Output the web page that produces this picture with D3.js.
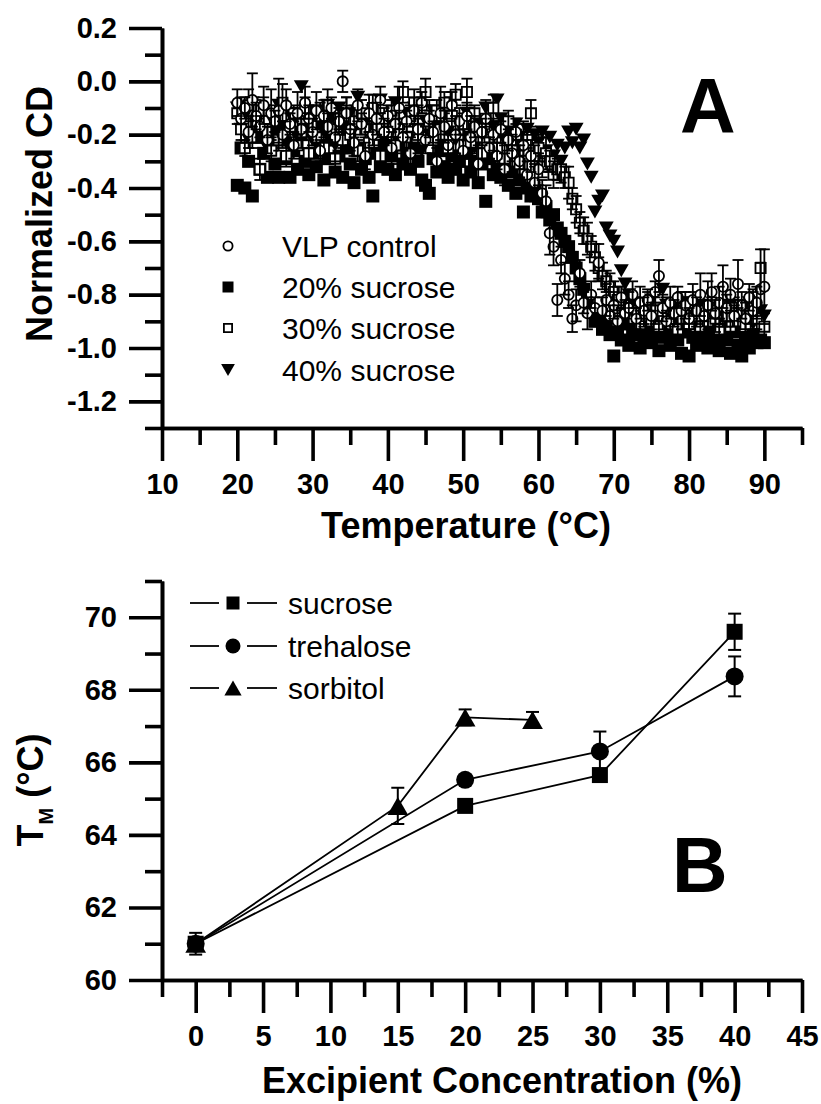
<!DOCTYPE html>
<html>
<head>
<meta charset="utf-8">
<script src="https://cdn.jsdelivr.net/npm/d3@7"></script>
<style>
body { margin: 0; background: #fff; }
text { font-family: "Liberation Sans", Arial, sans-serif; fill: #000; }
</style>
</head>
<body>
<div id="chart"></div>
<script>
var width = 821,
    height = 1104;

// ---- panel A : CD melting curves ----
var temps = [
  20, 20.5, 21, 21.5, 22, 22.5, 23, 23.5, 24, 24.5,
  25, 25.5, 26, 26.5, 27, 27.5, 28, 28.5, 29, 29.5,
  30, 30.5, 31, 31.5, 32, 32.5, 33, 33.5, 34, 34.5,
  35, 35.5, 36, 36.5, 37, 37.5, 38, 38.5, 39, 39.5,
  40, 40.5, 41, 41.5, 42, 42.5, 43, 43.5, 44, 44.5,
  45, 45.5, 46, 46.5, 47, 47.5, 48, 48.5, 49, 49.5,
  50, 50.5, 51, 51.5, 52, 52.5, 53, 53.5, 54, 54.5,
  55, 55.5, 56, 56.5, 57, 57.5, 58, 58.5, 59, 59.5,
  60, 60.5, 61, 61.5, 62, 62.5, 63, 63.5, 64, 64.5,
  65, 65.5, 66, 66.5, 67, 67.5, 68, 68.5, 69, 69.5,
  70, 70.5, 71, 71.5, 72, 72.5, 73, 73.5, 74, 74.5,
  75, 75.5, 76, 76.5, 77, 77.5, 78, 78.5, 79, 79.5,
  80, 80.5, 81, 81.5, 82, 82.5, 83, 83.5, 84, 84.5,
  85, 85.5, 86, 86.5, 87, 87.5, 88, 88.5, 89, 89.5,
  90
];

var cd_vlp = [
  -0.08, -0.14, -0.10, -0.19, -0.07, -0.13, -0.17, -0.09, -0.22, -0.12,
  -0.15, -0.11, -0.20, -0.09, -0.16, -0.24, -0.12, -0.18, -0.08, -0.14,
  -0.19, -0.11, -0.26, -0.13, -0.17, -0.10, -0.21, -0.15, 0.00, -0.12,
  -0.18, -0.23, -0.09, -0.16, -0.28, -0.12, -0.20, -0.14, -0.07, -0.19,
  -0.13, -0.25, -0.16, -0.10, -0.21, -0.15, -0.27, -0.11, -0.18, -0.08,
  -0.22, -0.14, -0.19, -0.30, -0.12, -0.17, -0.24, -0.09, -0.20, -0.15,
  -0.26, -0.13, -0.21, -0.17, -0.31, -0.19, -0.14, -0.25, -0.20, -0.28,
  -0.18, -0.33, -0.22, -0.27, -0.19, -0.30, -0.24, -0.35, -0.28, -0.38,
  -0.33, -0.42, -0.45, -0.57, -0.62, -0.82, -0.67, -0.74, -0.80, -0.89,
  -0.84, -0.72, -0.83, -0.87, -0.80, -0.85, -0.68, -0.86, -0.82, -0.88,
  -0.84, -0.90, -0.81, -0.87, -0.85, -0.80, -0.89, -0.83, -0.86, -0.82,
  -0.88, -0.79, -0.73, -0.85, -0.90, -0.83, -0.87, -0.81, -0.86, -0.84,
  -0.89, -0.82, -0.86, -0.80, -0.88, -0.84, -0.79, -0.87, -0.83, -0.77,
  -0.85, -0.80, -0.88, -0.76, -0.84, -0.89, -0.81, -0.86, -0.83, -0.78,
  -0.77
];

var err_vlp = [
  0.05, 0.08, 0.04, 0.06, 0.10, 0.05, 0.04, 0.07, 0.05, 0.09,
  0.04, 0.12, 0.05, 0.06, 0.04, 0.05, 0.08, 0.04, 0.06, 0.05,
  0.05, 0.07, 0.04, 0.06, 0.05, 0.04, 0.09, 0.05, 0.04, 0.06,
  0.08, 0.05, 0.06, 0.04, 0.05, 0.07, 0.04, 0.06, 0.05, 0.05,
  0.04, 0.06, 0.05, 0.08, 0.05, 0.04, 0.06, 0.05, 0.09, 0.04,
  0.05, 0.07, 0.04, 0.05, 0.10, 0.06, 0.04, 0.05, 0.07, 0.05,
  0.06, 0.05, 0.08, 0.04, 0.06, 0.05, 0.07, 0.04, 0.06, 0.05,
  0.05, 0.06, 0.04, 0.07, 0.05, 0.06, 0.09, 0.05, 0.06, 0.07,
  0.06, 0.05, 0.06, 0.08, 0.07, 0.06, 0.05, 0.06, 0.05, 0.05,
  0.06, 0.05, 0.04, 0.06, 0.05, 0.04, 0.07, 0.05, 0.06, 0.04,
  0.05, 0.06, 0.04, 0.05, 0.06, 0.05, 0.04, 0.06, 0.05, 0.04,
  0.05, 0.04, 0.06, 0.05, 0.04, 0.06, 0.05, 0.04, 0.07, 0.05,
  0.04, 0.06, 0.05, 0.08, 0.06, 0.09, 0.07, 0.05, 0.06, 0.08,
  0.05, 0.06, 0.04, 0.09, 0.05, 0.06, 0.05, 0.07, 0.06, 0.10,
  0.14
];

var cd_suc20 = [
  -0.39, -0.25, -0.40, -0.30, -0.43, -0.21, -0.33, -0.27, -0.36, -0.24,
  -0.31, -0.36, -0.22, -0.29, -0.36, -0.26, -0.33, -0.20, -0.30, -0.35,
  -0.27, -0.32, -0.24, -0.37, -0.29, -0.22, -0.34, -0.28, -0.36, -0.25,
  -0.31, -0.38, -0.26, -0.33, -0.29, -0.36, -0.43, -0.27, -0.32, -0.24,
  -0.33, -0.28, -0.35, -0.23, -0.31, -0.27, -0.33, -0.25, -0.30, -0.37,
  -0.39, -0.42, -0.29, -0.34, -0.26, -0.32, -0.36, -0.28, -0.33, -0.30,
  -0.37, -0.27, -0.34, -0.30, -0.38, -0.31, -0.45, -0.29, -0.35, -0.33,
  -0.36, -0.31, -0.39, -0.34, -0.42, -0.37, -0.49, -0.40, -0.43, -0.41,
  -0.44, -0.49, -0.47, -0.52, -0.50, -0.55, -0.57, -0.60, -0.62, -0.66,
  -0.70, -0.74, -0.78, -0.82, -0.86, -0.90, -0.88, -0.93, -0.91, -0.95,
  -1.03, -0.94, -0.97, -0.91, -0.99, -0.95, -0.93, -1.00, -0.96, -0.92,
  -0.98, -0.94, -1.01, -0.96, -0.93, -0.99, -0.95, -0.97, -1.02, -0.94,
  -1.03, -0.96, -0.99, -0.93, -0.97, -1.00, -0.94, -0.98, -1.01, -0.95,
  -0.97, -1.02, -0.94, -0.99, -1.03, -0.96, -1.00, -0.95, -0.98, -0.97,
  -0.98
];

var cd_suc30 = [
  -0.12, -0.18, -0.25, -0.09, -0.21, -0.15, -0.33, -0.11, -0.19, -0.26,
  -0.14, -0.22, -0.08, -0.28, -0.17, -0.12, -0.24, -0.19, -0.10, -0.27,
  -0.16, -0.21, -0.13, -0.25, -0.09, -0.18, -0.29, -0.14, -0.22, -0.11,
  -0.20, -0.15, -0.26, -0.12, -0.18, -0.23, -0.10, -0.17, -0.28, -0.14,
  -0.19, -0.11, -0.24, -0.16, -0.04, -0.21, -0.13, -0.08, -0.18, -0.09,
  -0.04, -0.15, -0.22, -0.11, -0.18, -0.08, -0.25, -0.13, -0.05, -0.20,
  -0.16, -0.04, -0.23, -0.12, -0.19, -0.27, -0.14, -0.21, -0.10, -0.25,
  -0.18, -0.29, -0.15, -0.24, -0.20, -0.31, -0.26, -0.22, -0.12, -0.28,
  -0.25, -0.32, -0.27, -0.30, -0.35, -0.33, -0.33, -0.36, -0.38, -0.44,
  -0.48, -0.53, -0.56, -0.59, -0.62, -0.66, -0.70, -0.73, -0.75, -0.77,
  -0.79, -0.82, -0.84, -0.87, -0.85, -0.89, -0.86, -0.91, -0.88, -0.84,
  -0.90, -0.86, -0.92, -0.88, -0.85, -0.91, -0.87, -0.93, -0.89, -0.86,
  -0.91, -0.84, -0.88, -0.92, -0.86, -0.90, -0.85, -0.89, -0.93, -0.87,
  -0.88, -0.92, -0.85, -0.90, -0.86, -0.91, -0.87, -0.83, -0.89, -0.70,
  -0.92
];

var err_suc30 = [
  0.04, 0.05, 0.03, 0.06, 0.04, 0.08, 0.04, 0.05, 0.03, 0.04,
  0.05, 0.04, 0.07, 0.04, 0.05, 0.03, 0.04, 0.06, 0.04, 0.05,
  0.04, 0.03, 0.05, 0.04, 0.06, 0.04, 0.05, 0.04, 0.03, 0.05,
  0.04, 0.06, 0.04, 0.05, 0.03, 0.04, 0.05, 0.04, 0.06, 0.04,
  0.05, 0.04, 0.03, 0.05, 0.04, 0.06, 0.04, 0.05, 0.04, 0.03,
  0.05, 0.04, 0.06, 0.04, 0.05, 0.04, 0.03, 0.05, 0.04, 0.06,
  0.04, 0.05, 0.04, 0.03, 0.05, 0.04, 0.06, 0.04, 0.05, 0.04,
  0.03, 0.05, 0.04, 0.06, 0.04, 0.05, 0.04, 0.03, 0.05, 0.04,
  0.05, 0.04, 0.06, 0.04, 0.05, 0.04, 0.05, 0.04, 0.06, 0.04,
  0.05, 0.04, 0.05, 0.06, 0.04, 0.05, 0.04, 0.05, 0.04, 0.05,
  0.04, 0.05, 0.04, 0.05, 0.04, 0.05, 0.04, 0.05, 0.04, 0.05,
  0.04, 0.05, 0.04, 0.05, 0.04, 0.05, 0.04, 0.05, 0.04, 0.05,
  0.04, 0.05, 0.04, 0.05, 0.04, 0.05, 0.04, 0.05, 0.04, 0.05,
  0.04, 0.05, 0.04, 0.05, 0.04, 0.05, 0.04, 0.05, 0.04, 0.07,
  0.05
];

var cd_suc40 = [
  -0.10, -0.18, -0.13, -0.22, -0.08, -0.16, -0.20, -0.11, -0.25, -0.14,
  -0.19, -0.09, -0.17, -0.23, -0.12, -0.15, -0.21, -0.02, -0.18, -0.13,
  -0.22, -0.11, -0.16, -0.19, -0.09, -0.14, -0.24, -0.10, -0.17, -0.21,
  -0.12, -0.18, -0.06, -0.25, -0.15, -0.20, -0.11, -0.17, -0.07, -0.22,
  -0.14, -0.19, -0.08, -0.23, -0.16, -0.12, -0.21, -0.10, -0.18, -0.26,
  -0.15, -0.20, -0.11, -0.17, -0.24, -0.13, -0.19, -0.08, -0.22, -0.16,
  -0.21, -0.12, -0.18, -0.25, -0.15, -0.20, -0.10, -0.23, -0.17, -0.07,
  -0.14, -0.22, -0.19, -0.26, -0.16, -0.21, -0.24, -0.18, -0.28, -0.20,
  -0.23, -0.19, -0.26, -0.21, -0.28, -0.24, -0.30, -0.25, -0.19, -0.23,
  -0.18, -0.25, -0.22, -0.31, -0.36, -0.49, -0.45, -0.43, -0.55, -0.58,
  -0.60, -0.64, -0.71, -0.76, -0.80, -0.83, -0.86, -0.84, -0.88, -0.85,
  -0.82, -0.89, -0.86, -0.78, -0.84, -0.88, -0.85, -0.90, -0.87, -0.83,
  -0.89, -0.86, -0.92, -0.84, -0.88, -0.91, -0.85, -0.87, -0.93, -0.86,
  -0.90, -0.84, -0.88, -0.92, -0.85, -0.89, -0.83, -0.91, -0.87, -0.86,
  -0.88
];

var tempTicks = [10, 20, 30, 40, 50, 60, 70, 80, 90];
var tempTickLabels = ["10", "20", "30", "40", "50", "60", "70", "80", "90"];
var tempMinor = [15, 25, 35, 45, 55, 65, 75, 85, 95];
var cdTicks = [0.2, 0.0, -0.2, -0.4, -0.6, -0.8, -1.0, -1.2];
var cdTickLabels = ["0.2", "0.0", "-0.2", "-0.4", "-0.6", "-0.8", "-1.0", "-1.2"];
var cdMinor = [0.1, -0.1, -0.3, -0.5, -0.7, -0.9, -1.1, -1.3];
var legendA = ["VLP control", "20% sucrose", "30% sucrose", "40% sucrose"];

// ---- panel B : Tm vs excipient ----
var conc_sucrose = [0, 20, 30, 40];
var tm_sucrose = [61.0, 64.8, 65.65, 69.6];
var err_sucrose = [0.15, 0.1, 0.12, 0.5];
var conc_trehalose = [0, 20, 30, 40];
var tm_trehalose = [61.0, 65.52, 66.3, 68.37];
var err_trehalose = [0.15, 0.1, 0.55, 0.55];
var conc_sorbitol = [0, 15, 20, 25];
var tm_sorbitol = [61.0, 64.8, 67.24, 67.17];
var err_sorbitol = [0.3, 0.5, 0.22, 0.22];

var concTicks = [0, 5, 10, 15, 20, 25, 30, 35, 40, 45];
var concTickLabels = ["0", "5", "10", "15", "20", "25", "30", "35", "40", "45"];
var concMinor = [-2.5, 2.5, 7.5, 12.5, 17.5, 22.5, 27.5, 32.5, 37.5, 42.5];
var tmTicks = [60, 62, 64, 66, 68, 70];
var tmTickLabels = ["60", "62", "64", "66", "68", "70"];
var tmMinor = [61, 63, 65, 67, 69, 71];
var legendB = ["sucrose", "trehalose", "sorbitol"];

var svg = d3.select("#chart").append("svg")
    .attr("width", width)
    .attr("height", height);

svg.append("rect").attr("width", width).attr("height", height).attr("fill", "#fff");

var xA = d3.scaleLinear().domain([10, 95]).range([162, 802]);
var yA = d3.scaleLinear().domain([-1.3, 0.2]).range([428, 28]);
var xB = d3.scaleLinear().domain([-2.5, 45]).range([162, 802]);
var yB = d3.scaleLinear().domain([60, 71]).range([980, 581]);

var square = function (s) {
    var h = s / 2;
    return "M" + (-h) + "," + (-h) + "h" + s + "v" + s + "h" + (-s) + "Z";
};
var triangle = function (w, h, down) {
    var k = down ? -1 : 1;
    return "M" + (-w / 2) + "," + (k * h / 2) + "L" + (w / 2) + "," + (k * h / 2) + "L0," + (-k * h / 2) + "Z";
};

var marker = function (g, kind, x, y, s) {
    if (kind == "circle") {
        g.append("circle").attr("cx", x).attr("cy", y).attr("r", s / 2 - 0.9)
            .attr("fill", "#fff").attr("stroke", "#000").attr("stroke-width", 1.8);
    } else if (kind == "dot") {
        g.append("circle").attr("cx", x).attr("cy", y).attr("r", s / 2).attr("fill", "#000");
    } else if (kind == "square") {
        g.append("path").attr("d", square(s)).attr("transform", "translate(" + x + "," + y + ")")
            .attr("fill", "#000");
    } else if (kind == "opensquare") {
        g.append("path").attr("d", square(s - 1.8)).attr("transform", "translate(" + x + "," + y + ")")
            .attr("fill", "#fff").attr("stroke", "#000").attr("stroke-width", 1.8);
    } else if (kind == "down") {
        g.append("path").attr("d", triangle(s * 1.15, s, true)).attr("transform", "translate(" + x + "," + y + ")")
            .attr("fill", "#000");
    } else if (kind == "up") {
        g.append("path").attr("d", triangle(s * 1.15, s, false)).attr("transform", "translate(" + x + "," + y + ")")
            .attr("fill", "#000");
    }
};

var errorBar = function (g, x, y0, y1, cap, sw) {
    g.append("line").attr("x1", x).attr("x2", x).attr("y1", y0).attr("y2", y1)
        .attr("stroke", "#000").attr("stroke-width", sw);
    [y0, y1].forEach(function (yy) {
        g.append("line").attr("x1", x - cap / 2).attr("x2", x + cap / 2).attr("y1", yy).attr("y2", yy)
            .attr("stroke", "#000").attr("stroke-width", sw);
    });
};

var drawAxis = function (g, axisFn, scale, major, labels, minor) {
    g.append("g").call(axisFn(scale).tickValues(minor).tickSize(17).tickSizeOuter(0).tickFormat(""));
    g.append("g").call(axisFn(scale).tickValues(major).tickSize(33).tickSizeOuter(0)
        .tickPadding(12).tickFormat(function (d, i) { return labels[i]; }));
    g.selectAll("path.domain, .tick line")
        .attr("stroke", "#000")
        .attr("stroke-width", 3.6);
    g.selectAll(".tick text")
        .attr("font-size", 29)
        .attr("font-weight", "bold")
        .attr("font-family", "'Liberation Sans', Arial, sans-serif")
        .attr("fill", "#000");
};

// ---------- panel A ----------
var gA = svg.append("g");

var seriesA = [
    {vals: cd_suc20, err: null, kind: "square", size: 13},
    {vals: cd_suc40, err: null, kind: "down", size: 13},
    {vals: cd_suc30, err: err_suc30, kind: "opensquare", size: 12},
    {vals: cd_vlp, err: err_vlp, kind: "circle", size: 12}
];

seriesA.forEach(function (s) {
    var g = gA.append("g");
    s.vals.forEach(function (v, i) {
        marker(g, s.kind, xA(temps[i]), yA(v), s.size);
    });
    if (s.err) {
        s.vals.forEach(function (v, i) {
            errorBar(g, xA(temps[i]), yA(v + s.err[i]), yA(v - s.err[i]), 11, 1.8);
        });
    }
});

drawAxis(gA.append("g").attr("transform", "translate(162,0)"), d3.axisLeft, yA, cdTicks, cdTickLabels, cdMinor);
drawAxis(gA.append("g").attr("transform", "translate(0,428)"), d3.axisBottom, xA, tempTicks, tempTickLabels, tempMinor);

gA.append("text")
    .attr("transform", "translate(52,214) rotate(-90)")
    .attr("text-anchor", "middle")
    .attr("font-size", 36)
    .attr("font-weight", "bold")
    .text("Normalized CD");

gA.append("text")
    .attr("x", 466)
    .attr("y", 538)
    .attr("text-anchor", "middle")
    .attr("font-size", 36)
    .attr("font-weight", "bold")
    .text("Temperature (°C)");

gA.append("text")
    .attr("x", 680)
    .attr("y", 133)
    .attr("font-size", 77)
    .attr("font-weight", "bold")
    .text("A");

var legKindsA = [["circle", 11], ["square", 11], ["opensquare", 10], ["down", 12]];
var legRowsA = [246, 287, 328, 370];
legendA.forEach(function (name, i) {
    marker(gA, legKindsA[i][0], 228, legRowsA[i], legKindsA[i][1]);
    gA.append("text")
        .attr("x", 282)
        .attr("y", legRowsA[i])
        .attr("dy", "0.36em")
        .attr("font-size", 30)
        .text(name);
});

// ---------- panel B ----------
var gB = svg.append("g");

var seriesB = [
    {x: conc_sucrose, y: tm_sucrose, err: err_sucrose, kind: "square", size: 16},
    {x: conc_trehalose, y: tm_trehalose, err: err_trehalose, kind: "dot", size: 18},
    {x: conc_sorbitol, y: tm_sorbitol, err: err_sorbitol, kind: "up", size: 18}
];

var line = d3.line();

seriesB.forEach(function (s) {
    var pts = s.x.map(function (c, i) { return [xB(c), yB(s.y[i])]; });
    gB.append("path")
        .attr("d", line(pts))
        .attr("fill", "none")
        .attr("stroke", "#000")
        .attr("stroke-width", 1.8);
});

seriesB.forEach(function (s) {
    var g = gB.append("g");
    s.x.forEach(function (c, i) {
        errorBar(g, xB(c), yB(s.y[i] + s.err[i]), yB(s.y[i] - s.err[i]), 13, 2);
        marker(g, s.kind, xB(c), yB(s.y[i]), s.size);
    });
});

drawAxis(gB.append("g").attr("transform", "translate(162,0)"), d3.axisLeft, yB, tmTicks, tmTickLabels, tmMinor);
drawAxis(gB.append("g").attr("transform", "translate(0,980)"), d3.axisBottom, xB, concTicks, concTickLabels, concMinor);

var tmTitle = gB.append("text")
    .attr("transform", "translate(43,790) rotate(-90)")
    .attr("text-anchor", "middle")
    .attr("font-size", 36)
    .attr("font-weight", "bold");
tmTitle.append("tspan").text("T");
tmTitle.append("tspan").attr("font-size", 20).attr("dy", 10).text("M");
tmTitle.append("tspan").attr("dy", -10).text(" (°C)");

gB.append("text")
    .attr("x", 502)
    .attr("y", 1093)
    .attr("text-anchor", "middle")
    .attr("font-size", 36)
    .attr("font-weight", "bold")
    .text("Excipient Concentration (%)");

gB.append("text")
    .attr("x", 672)
    .attr("y", 892)
    .attr("font-size", 77)
    .attr("font-weight", "bold")
    .text("B");

var legKindsB = [["square", 13], ["dot", 15], ["up", 15]];
var legRowsB = [603, 646, 688];
legendB.forEach(function (name, i) {
    gB.append("line").attr("x1", 190).attr("x2", 219).attr("y1", legRowsB[i]).attr("y2", legRowsB[i])
        .attr("stroke", "#000").attr("stroke-width", 1.8);
    gB.append("line").attr("x1", 247).attr("x2", 277).attr("y1", legRowsB[i]).attr("y2", legRowsB[i])
        .attr("stroke", "#000").attr("stroke-width", 1.8);
    marker(gB, legKindsB[i][0], 233, legRowsB[i], legKindsB[i][1]);
    gB.append("text")
        .attr("x", 288)
        .attr("y", legRowsB[i])
        .attr("dy", "0.36em")
        .attr("font-size", 30)
        .text(name);
});
</script>
</body>
</html>
